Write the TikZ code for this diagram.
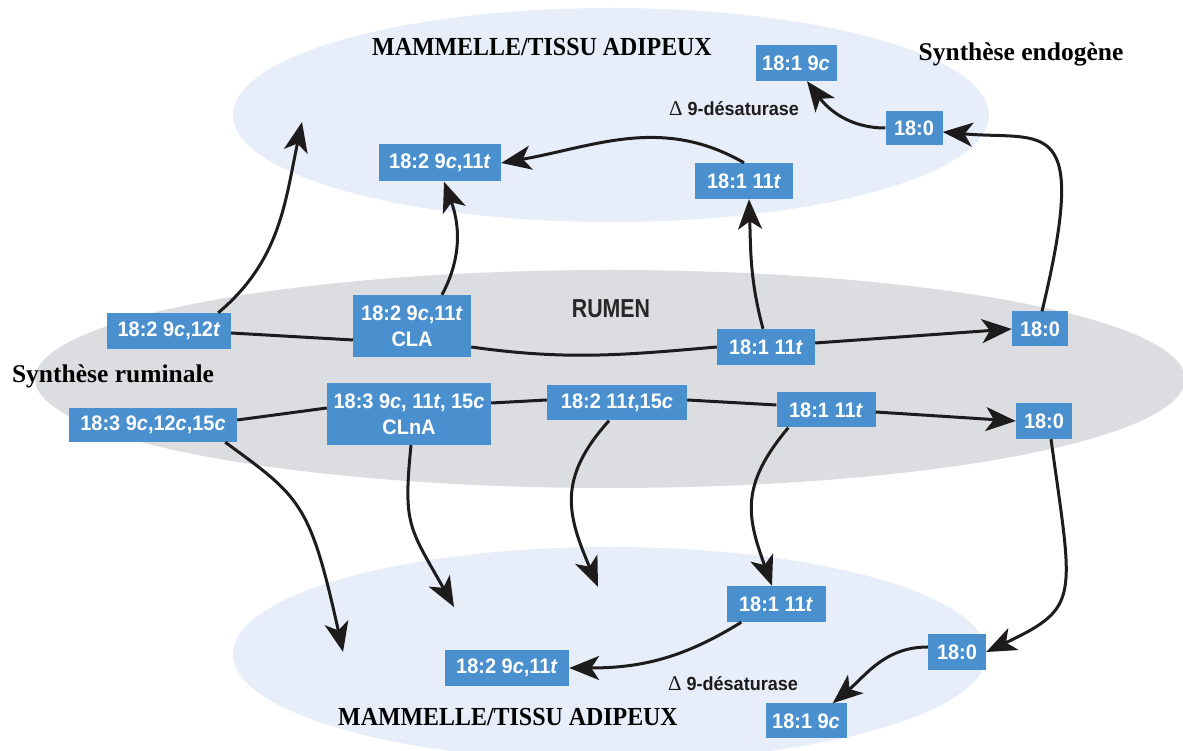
\documentclass[tikz,border=0pt]{standalone}
\usepackage{fontspec}
\setmainfont{Liberation Serif}
\newfontfamily\boxfont[FakeStretch=0.95]{Liberation Sans}
\newfontfamily\rumfont[FakeStretch=0.82]{Liberation Sans}
\newfontfamily\titlefont[FakeStretch=0.92]{Liberation Serif}
\usetikzlibrary{arrows.meta, positioning}
\definecolor{fablue}{RGB}{74,144,206}
\definecolor{mamblue}{RGB}{231,238,249}
\definecolor{rumgray}{RGB}{220,221,224}
\definecolor{inkblack}{RGB}{30,27,28}

\tikzset{
  fa/.style={fill=fablue, text=white, inner sep=0pt, minimum height=36pt, align=center,
    font=\boxfont\bfseries\fontsize{21}{26}\selectfont},
  head/.style={inner sep=0pt, font=\titlefont\bfseries\fontsize{26}{30}\selectfont},
  synth/.style={inner sep=0pt, font=\bfseries\fontsize{25.5}{30}\selectfont},
  enz/.style={inner sep=0pt, text=inkblack, font=\boxfont\bfseries\fontsize{19}{22}\selectfont},
  link/.style={draw=inkblack, line width=3pt},
  flow/.style={link, -{Stealth[length=30pt,width=24pt,inset=8pt]}}
}

\begin{document}
\begin{tikzpicture}[x=1pt,y=1pt]
\useasboundingbox (0,0) rectangle (1183,751);
% compartments, top to bottom
\fill[mamblue] (611,636) ellipse [x radius=378, y radius=107];
\fill[rumgray] (610,372) ellipse [x radius=575, y radius=109];
\fill[mamblue] (610,97) ellipse [x radius=377, y radius=107];
%
\node[head] (mamtop) at (542,704) {MAMMELLE/TISSU ADIPEUX};
\node[synth] (endo) at (1021,697) {Synthèse endogène};
\node[fa, minimum width=81pt] (t91c) at (796,688) {18:1 9\textit{c}};
\node[enz] (tdes) at (734,642) {{\rmfamily\mdseries\fontsize{21}{22}\selectfont Δ} 9-désaturase};
\node[fa, minimum width=57pt, minimum height=34pt] (t180) at (914,623) {18:0};
\node[fa, minimum width=98pt] (t111) at (744,570) {18:1 11\textit{t}};
\node[fa, minimum width=122pt, minimum height=37pt] (tcla) at (440,588) {18:2 9\textit{c},11\textit{t}};
\coordinate (in912) at (302,629);
%
\node[font=\rumfont\bfseries\fontsize{26}{30}\selectfont, text=black!85, inner sep=0pt] (rumen) at (611,442) {RUMEN};
\node[synth] (rsyn) at (113,375) {Synthèse ruminale};
\node[fa, minimum width=124pt] (r912) at (169,420) {18:2 9\textit{c},12\textit{t}};
\node[fa, minimum width=118pt, minimum height=62pt] (rcla) at (412,425) {18:2 9\textit{c},11\textit{t}\\CLA};
\node[fa, minimum width=98pt] (r111a) at (766,404) {18:1 11\textit{t}};
\node[fa, minimum width=56pt, minimum height=35pt] (r180a) at (1040,422) {18:0};
\node[fa, minimum width=168pt, minimum height=34pt] (rlna) at (153,326) {18:3 9\textit{c},12\textit{c},15\textit{c}};
\node[fa, minimum width=164pt, minimum height=62pt] (rclna) at (409,337) {18:3 9\textit{c}, 11\textit{t}, 15\textit{c}\\CLnA};
\node[fa, minimum width=140pt, minimum height=35pt] (r1115) at (617,348) {18:2 11\textit{t},15\textit{c}};
\node[fa, minimum width=99pt, minimum height=35pt] (r111b) at (826,341) {18:1 11\textit{t}};
\node[fa, minimum width=56pt] (r180b) at (1044,330) {18:0};
%
\node[fa, minimum width=99pt] (b111) at (776,147) {18:1 11\textit{t}};
\node[fa, minimum width=58pt] (b180) at (957,99) {18:0};
\node[fa, minimum width=124pt] (bcla) at (507,83) {18:2 9\textit{c},11\textit{t}};
\node[enz] (bdes) at (733,67) {{\rmfamily\mdseries\fontsize{21}{22}\selectfont Δ} 9-désaturase};
\node[fa, minimum width=81pt, minimum height=35pt] (b91c) at (806,30) {18:1 9\textit{c}};
\node[head] (mambot) at (508,34) {MAMMELLE/TISSU ADIPEUX};
\coordinate (inlna) at (343,99);
\coordinate (inclna) at (454,144);
\coordinate (in1115) at (598,164);
% rumen chains
\draw[link] ([yshift=-2pt]r912.east) -- ([yshift=-14pt]rcla.west);
\draw[link] ([yshift=-21pt]rcla.east) to[out=-8, in=185] (r111a.west);
\draw[flow] ([yshift=4pt]r111a.east) -- (r180a.west);
\draw[link] ([yshift=5pt]rlna.east) -- ([yshift=6pt]rclna.west);
\draw[link] ([yshift=11pt]rclna.east) -- ([yshift=3pt]r1115.west);
\draw[link] ([yshift=3pt]r1115.east) -- ([yshift=5pt]r111b.west);
\draw[flow] ([yshift=-2pt]r111b.east) -- (r180b.west);
% up
\draw[flow] ([xshift=-13pt]r912.north east) to[out=40, in=-102] (in912);
\draw[flow] ([xshift=30pt]rcla.north) to[out=62, in=-70] ([xshift=4pt]tcla.south);
\draw[flow] ([xshift=-3pt]r111a.north) to[out=105, in=-88] ([xshift=5pt]t111.south);
\draw[flow] (t111.north) to[out=150, in=10] (tcla.east);
\draw[flow] ([xshift=2pt]r180a.north) .. controls +(48,200) and +(102,-9) .. ([yshift=-4pt]t180.east);
\draw[flow] (t180.west) to[out=180, in=-53] ([xshift=11pt]t91c.south);
% down
\draw[flow] ([xshift=-12pt]rlna.south east) .. controls +(75,-55) and +(-33,150) .. (inlna);
\draw[flow] ([xshift=2pt]rclna.south) .. controls +(-8,-80) and +(-45,80) .. (inclna);
\draw[flow] ([xshift=-8pt]r1115.south) to[out=-132, in=113, looseness=1.2] (in1115);
\draw[flow] ([xshift=12pt]r111b.south west) to[out=-130, in=110, looseness=1.2] ([xshift=-4pt]b111.north);
\draw[flow] ([xshift=7pt]r180b.south) .. controls +(22,-160) and +(95,45) .. (b180.east);
\draw[flow] ([yshift=5pt]b180.west) to[out=180, in=40] ([xshift=-14pt]b91c.north east);
\draw[flow] ([xshift=15pt]b111.south west) to[out=-148, in=0] (bcla.east);
\end{tikzpicture}
\end{document}
